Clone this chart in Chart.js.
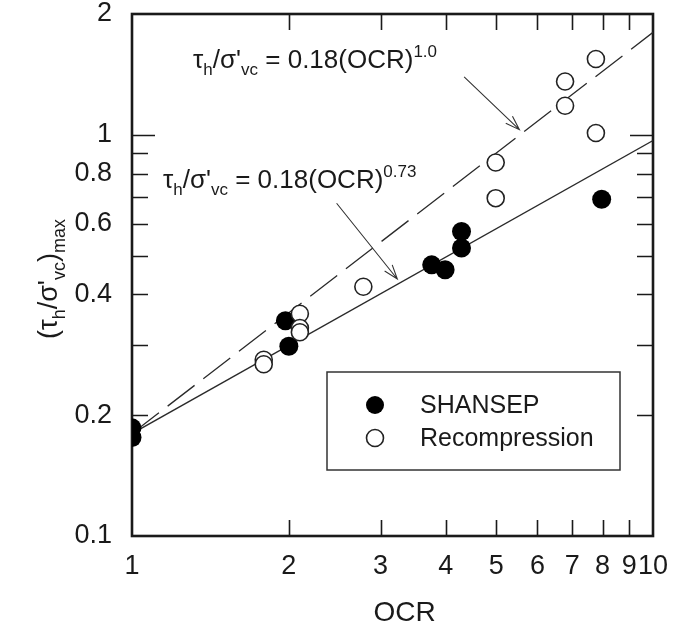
<!DOCTYPE html>
<html><head><meta charset="utf-8">
<script src="https://cdn.jsdelivr.net/npm/chart.js@4.4.1/dist/chart.umd.min.js"></script>
<style>html,body{margin:0;padding:0;background:#fff}#wrap{width:679px;height:644px}</style>
</head><body><div id="wrap"><canvas id="c" width="679" height="644"></canvas></div>
<script>
// ---- data ----
const seriesNames = ['SHANSEP', 'Recompression'];
const shansepOCR   = [1, 1, 1.97, 2.0, 3.76, 3.99, 4.29, 4.29, 7.97];
const shansepRatio = [0.186, 0.176, 0.344, 0.297, 0.474, 0.461, 0.574, 0.522, 0.691];
const recompOCR    = [1.79, 1.79, 2.1, 2.1, 2.1, 2.78, 4.99, 4.99, 6.78, 6.78, 7.77, 7.77];
const recompRatio  = [0.275, 0.268, 0.358, 0.33, 0.322, 0.418, 0.853, 0.695, 1.358, 1.181, 1.545, 1.01];
const fitOCR   = [1, 10];
const fit073   = [0.18, 0.967];   // 0.18(OCR)^0.73
const fit100   = [0.18, 1.8];     // 0.18(OCR)^1.0
const xTicks = [1, 2, 3, 4, 5, 6, 7, 8, 9, 10];
const xTickLabels = ['1', '2', '3', '4', '5', '6', '7', '8', '9', '10'];
const yTicks = [0.1, 0.2, 0.3, 0.4, 0.5, 0.6, 0.7, 0.8, 0.9, 1, 2];
const yTickLabels = ['0.1', '0.2', '', '0.4', '', '0.6', '', '0.8', '', '1', '2'];
const xTitle = 'OCR';
const eq073 = [['τ', 'n'], ['h', 'sub'], ['/σ\'', 'n'], ['vc', 'sub'], [' = 0.18(OCR)', 'n'], ['0.73', 'sup']];
const eq100 = [['τ', 'n'], ['h', 'sub'], ['/σ\'', 'n'], ['vc', 'sub'], [' = 0.18(OCR)', 'n'], ['1.0', 'sup']];
const yTitleRuns = [['(τ', 'n'], ['h', 'sub'], ['/σ\'', 'n'], ['vc', 'sub'], [')', 'n'], ['max', 'sub']];

// ---- styling / annotation placement (data coordinates) ----
const FONT = '"Liberation Sans", Arial, sans-serif';
const INK = '#1a1a1a';
const notes = [
  { runs: eq100, at: [1.31, 1.47], arrow: [[4.34, 1.395], [5.54, 1.03]] },
  { runs: eq073, at: [1.147, 0.738], arrow: [[2.47, 0.675], [3.23, 0.437]] }
];

const pts = (xs, ys) => xs.map((x, i) => ({ x, y: ys[i] }));

function drawRuns(ctx, runs, x, y, size) {
  const small = Math.round(size * 0.66);
  let cx = x;
  for (const [t, kind] of runs) {
    const fs = kind === 'n' ? size : small;
    ctx.font = fs + 'px ' + FONT;
    const dy = kind === 'sub' ? size * 0.28 : kind === 'sup' ? -size * 0.42 : 0;
    ctx.fillText(t, cx, y + dy);
    cx += ctx.measureText(t).width;
  }
  return cx - x;
}
function measureRuns(ctx, runs, size) {
  const small = Math.round(size * 0.66);
  let w = 0;
  for (const [t, kind] of runs) {
    ctx.font = (kind === 'n' ? size : small) + 'px ' + FONT;
    w += ctx.measureText(t).width;
  }
  return w;
}

const decor = {
  id: 'decor',
  beforeDatasetsDraw(chart) {
    const { ctx, chartArea: a, scales: { x, y } } = chart;
    ctx.save();
    ctx.strokeStyle = INK;
    ctx.lineWidth = 1.6;
    ctx.beginPath();
    xTicks.forEach(v => {
      if (v === 1 || v === 10) return;
      const px = Math.round(x.getPixelForValue(v)) + 0.5;
      const len = 16;
      ctx.moveTo(px, a.bottom); ctx.lineTo(px, a.bottom - len);
      ctx.moveTo(px, a.top); ctx.lineTo(px, a.top + len);
    });
    yTicks.forEach(v => {
      if (v === 0.1 || v === 2) return;
      const py = Math.round(y.getPixelForValue(v)) + 0.5;
      const len = v === 1 ? 23 : 16;
      ctx.moveTo(a.left, py); ctx.lineTo(a.left + len, py);
      ctx.moveTo(a.right, py); ctx.lineTo(a.right - len, py);
    });
    ctx.stroke();
    ctx.lineWidth = 2.6;
    ctx.strokeRect(a.left, a.top, a.right - a.left, a.bottom - a.top);
    ctx.restore();
  },
  afterDatasetsDraw(chart) {
    const { ctx, chartArea: a, scales: { x, y } } = chart;
    ctx.save();
    ctx.fillStyle = INK;
    ctx.strokeStyle = '#333';
    ctx.textBaseline = 'alphabetic';
    ctx.textAlign = 'left';
    notes.forEach(n => {
      drawRuns(ctx, n.runs, x.getPixelForValue(n.at[0]), y.getPixelForValue(n.at[1]), 26);
      const x1 = x.getPixelForValue(n.arrow[0][0]), y1 = y.getPixelForValue(n.arrow[0][1]);
      const x2 = x.getPixelForValue(n.arrow[1][0]), y2 = y.getPixelForValue(n.arrow[1][1]);
      const ang = Math.atan2(y2 - y1, x2 - x1);
      ctx.lineWidth = 1.1;
      ctx.beginPath();
      ctx.moveTo(x1, y1); ctx.lineTo(x2, y2);
      const hl = 15, ha = 0.33;
      ctx.moveTo(x2 - hl * Math.cos(ang - ha), y2 - hl * Math.sin(ang - ha));
      ctx.lineTo(x2, y2);
      ctx.lineTo(x2 - hl * Math.cos(ang + ha), y2 - hl * Math.sin(ang + ha));
      ctx.stroke();
    });
    // legend box
    const bx = a.left + 195, by = a.top + 358, bw = 293, bh = 98;
    ctx.fillStyle = '#fff';
    ctx.fillRect(bx, by, bw, bh);
    ctx.strokeStyle = '#333';
    ctx.lineWidth = 1.5;
    ctx.strokeRect(bx, by, bw, bh);
    const ds = chart.data.datasets;
    const items = [ds[1], ds[0]];
    items.forEach((d, i) => {
      const cy = by + 33 + i * 33;
      ctx.beginPath();
      ctx.arc(bx + 48, cy, d.pointRadius - (i === 0 ? 0.5 : 0), 0, Math.PI * 2);
      ctx.fillStyle = d.pointBackgroundColor;
      ctx.fill();
      ctx.strokeStyle = d.pointBorderColor;
      if (d.pointBorderWidth) { ctx.lineWidth = d.pointBorderWidth; ctx.stroke(); }
      ctx.fillStyle = INK;
      ctx.font = '25px ' + FONT;
      ctx.textBaseline = 'middle';
      ctx.fillText(d.label, bx + 93, cy + 1);
    });
    ctx.restore();
  },
  afterDraw(chart) {
    const { ctx, chartArea: a } = chart;
    ctx.save();
    ctx.fillStyle = INK;
    // x-axis title
    ctx.font = '28px ' + FONT;
    ctx.textAlign = 'center';
    ctx.textBaseline = 'middle';
    ctx.fillText(xTitle, (a.left + a.right) / 2 + 12, 613);
    // y-axis title (with subscripts)
    ctx.textAlign = 'left';
    ctx.textBaseline = 'alphabetic';
    const size = 27;
    const w = measureRuns(ctx, yTitleRuns, size);
    ctx.translate(57, (a.top + a.bottom) / 2 + 4);
    ctx.rotate(-Math.PI / 2);
    drawRuns(ctx, yTitleRuns, -w / 2, 0, size);
    ctx.restore();
  }
};

new Chart(document.getElementById('c'), {
  type: 'scatter',
  data: {
    datasets: [
      { label: seriesNames[1], data: pts(recompOCR, recompRatio), pointRadius: 8.5, pointHoverRadius: 8.5,
        pointBackgroundColor: '#fff', pointBorderColor: '#222', pointBorderWidth: 1.6, order: 0 },
      { label: seriesNames[0], data: pts(shansepOCR, shansepRatio), pointRadius: 9.5, pointHoverRadius: 9.5,
        pointBackgroundColor: '#000', pointBorderColor: '#000', pointBorderWidth: 0, order: 1 },
      { label: 'fit 0.73', data: pts(fitOCR, fit073), showLine: true, borderColor: '#2a2a2a', borderWidth: 1.3,
        pointRadius: 0, order: 2 },
      { label: 'fit 1.0', data: pts(fitOCR, fit100), showLine: true, borderColor: '#2a2a2a', borderWidth: 1.3,
        borderDash: [34, 11], pointRadius: 0, order: 3 }
    ]
  },
  options: {
    responsive: false,
    animation: false,
    devicePixelRatio: 1,
    layout: { padding: { left: 0, top: 14, right: 26, bottom: 0 } },
    plugins: { legend: { display: false }, tooltip: { enabled: false } },
    scales: {
      x: {
        type: 'logarithmic', min: 1, max: 10,
        afterBuildTicks: s => { s.ticks = xTicks.map(v => ({ value: v })); },
        afterFit: s => { s.height = 108; s.paddingLeft = 0; s.paddingRight = 0; },
        ticks: { autoSkip: false, maxRotation: 0, padding: 14, color: INK,
          font: { family: FONT, size: 27 }, callback: (v, i) => xTickLabels[i] },
        grid: { display: false, drawTicks: false },
        border: { display: false }
      },
      y: {
        type: 'logarithmic', min: 0.1, max: 2,
        afterBuildTicks: s => { s.ticks = yTicks.map(v => ({ value: v })); },
        afterFit: s => { s.width = 132; s.paddingTop = 0; s.paddingBottom = 0; },
        ticks: { autoSkip: false, padding: 20, color: INK,
          font: { family: FONT, size: 27 }, callback: (v, i) => yTickLabels[i] },
        grid: { display: false, drawTicks: false },
        border: { display: false }
      }
    }
  },
  plugins: [decor]
});
</script>
</body></html>
